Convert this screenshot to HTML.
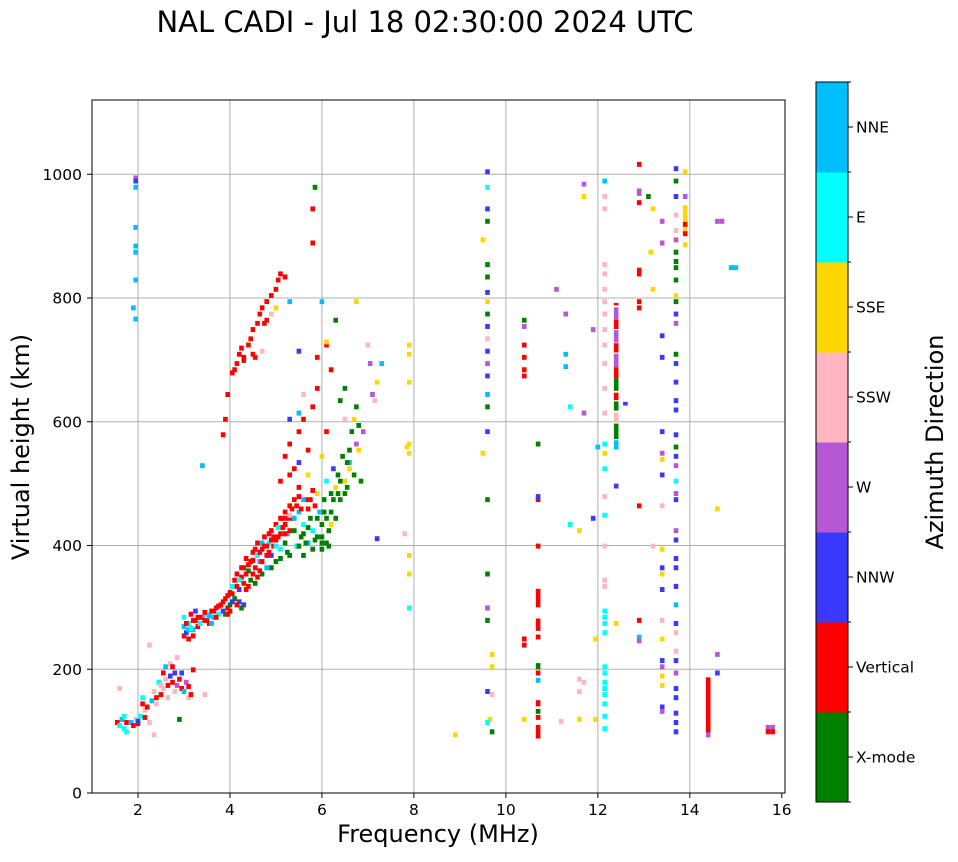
<!DOCTYPE html>
<html><head><meta charset="utf-8"><style>
body{margin:0;background:#fff;}
svg text{font-family:"DejaVu Sans","Liberation Sans",sans-serif;fill:#000;}
</style></head><body>
<svg id="chart" width="958" height="857" viewBox="0 0 958 857" xmlns="http://www.w3.org/2000/svg">
<text x="425" y="32" font-size="29" text-anchor="middle">NAL CADI - Jul 18 02:30:00 2024 UTC</text>
<g id="grid"></g>
<g id="marks"></g>
<rect x="92" y="100" width="693" height="693" fill="none" stroke="#000" stroke-width="1"/>
<g id="axes"></g>
<text x="438" y="842" font-size="24" text-anchor="middle">Frequency (MHz)</text>
<text x="0" y="0" font-size="24" text-anchor="middle" transform="translate(29,447) rotate(-90)">Virtual height (km)</text>
<g id="cbar"></g>
<text x="0" y="0" font-size="24" text-anchor="middle" transform="translate(943,442) rotate(-90)">Azimuth Direction</text>
</svg>
<script>
const categories=["X-mode","Vertical","NNW","W","SSW","SSE","E","NNE"];
const catColors=["#008000","#ff0000","#3a3aff","#b657d6","#ffb6c1","#ffd700","#00ffff","#00bfff"];
const xTicks=[2,4,6,8,10,12,14,16];
const yTicks=[0,200,400,600,800,1000];
// cells: frequency (MHz), height (km), category index, height span (km)
const freqs=[];const heights=[];const cats=[];const spans=[];
const raw=`1.55,110,1;1.6,105,6;1.65,115,7;1.7,100,6;1.75,110,1;1.6,165,4;1.85,110,7;1.9,105,1;1.95,115,4;2.0,108,1;2.05,120,6;2.1,140,1;2.1,150,6;2.15,130,4;2.2,135,1;2.25,110,4;2.3,145,7;2.35,160,4;2.35,90,4;2.4,150,1;2.45,175,6;2.5,170,4;2.5,155,1;2.55,190,1;2.6,180,4;2.6,200,7;2.65,170,1;2.7,185,2;2.7,205,4;2.75,175,1;2.8,190,2;2.8,160,4;2.85,170,3;2.9,180,1;2.95,165,1;3.0,160,7;3.05,175,3;3.1,150,4;3.15,155,1;3.2,195,1;2.85,215,4;2.25,235,4;2.9,115,0;3.45,155,4;1.7,120,6;1.75,95,6;2.0,112,2;2.15,118,1;2.4,140,4;2.55,165,4;2.65,150,4;2.75,200,1;2.95,190,2;3.1,168,1;
3.0,250,1;3.0,265,7;3.0,280,6;3.05,255,2;3.1,245,1;3.1,270,6;3.15,285,1;3.2,260,7;3.2,275,1;3.25,290,2;3.3,265,1;3.35,270,6;3.4,280,7;3.45,275,1;3.5,285,6;3.55,270,1;3.6,290,1;3.65,280,7;3.7,295,1;3.75,285,6;3.8,300,1;3.85,290,2;3.9,310,1;3.95,295,1;4.0,300,0;4.0,320,1;4.05,330,6;4.1,340,1;4.1,310,0;4.15,350,1;4.2,325,2;4.25,345,1;4.3,360,1;4.3,300,2;4.35,375,1;4.4,355,0;4.45,340,0;4.45,370,1;4.5,385,1;4.55,360,1;4.6,380,6;4.6,400,1;4.65,370,3;4.7,390,1;4.7,350,0;4.75,410,1;4.8,380,1;4.8,360,7;4.85,400,6;4.9,420,1;4.9,380,2;4.95,395,1;5.0,430,1;5.0,370,0;5.05,410,1;5.1,440,1;5.1,390,6;5.15,425,1;5.2,450,1;5.2,400,0;5.25,415,7;5.3,460,1;5.3,380,0;5.35,440,1;5.4,470,1;5.4,420,0;5.45,395,6;5.5,450,7;5.5,490,1;5.55,410,0;5.6,430,6;5.6,380,0;5.65,470,1;5.7,400,7;5.75,440,0;5.8,420,6;5.8,390,0;5.85,460,1;5.9,480,5;5.9,410,0;5.95,450,7;6.0,390,0;6.0,430,0;6.05,470,0;6.1,400,0;6.1,500,6;6.15,420,0;6.2,450,0;6.2,480,0;6.25,520,2;6.3,440,0;6.3,490,5;6.35,510,0;6.4,470,0;6.45,540,0;6.5,500,5;6.55,490,0;6.6,530,7;6.6,550,0;6.65,580,0;6.7,510,0;6.7,600,5;6.75,560,3;6.75,620,0;6.8,590,0;6.8,550,5;6.85,500,0;6.9,580,3;6.4,630,0;6.3,760,0;6.75,790,5;
3.1,260,7;3.2,250,1;3.3,280,1;3.5,275,1;3.6,270,7;3.7,280,1;3.9,285,0;4.0,290,1;4.2,305,2;4.3,335,1;4.4,330,1;4.5,350,1;4.6,345,1;4.7,370,1;4.8,395,1;4.9,405,1;5.0,395,6;5.1,415,1;5.2,430,1;5.3,420,1;5.4,440,7;5.6,415,0;5.7,425,0;5.9,440,0;6.0,410,0;6.2,430,5;6.5,480,0;
3.05,270,1;3.15,262,6;3.25,275,1;3.35,280,1;3.45,288,1;3.55,282,7;3.65,290,1;3.75,298,1;3.85,305,1;3.95,315,1;4.05,318,1;4.15,330,1;4.2,340,6;4.25,360,1;4.35,350,1;4.4,365,1;4.5,372,1;4.55,390,1;4.65,385,1;4.7,400,7;4.75,395,1;4.85,385,1;4.85,415,1;4.95,410,1;5.0,405,1;5.05,425,6;5.15,440,1;5.2,415,1;5.25,440,1;5.3,445,4;5.35,455,1;5.45,460,1;5.5,475,1;5.55,455,1;5.6,470,7;5.7,455,1;5.75,470,1;5.8,485,1;6.05,450,0;6.1,440,0;6.25,470,0;6.35,480,0;6.4,500,0;6.55,530,0;6.6,520,5;4.25,295,0;4.05,305,2;3.95,285,1;4.15,300,1;4.35,325,1;4.55,335,0;4.65,355,1;4.9,360,0;5.1,375,0;5.25,385,0;5.5,395,0;5.65,400,0;5.85,405,0;6.0,400,0;6.15,395,0;
5.2,540,1;5.3,560,1;5.4,520,1;5.5,580,1;5.6,600,1;5.7,550,1;5.8,620,1;5.9,650,1;5.9,700,1;5.3,600,2;5.5,610,7;5.6,640,4;6.0,790,7;6.0,540,5;6.1,720,1;6.2,680,1;6.5,600,4;6.5,650,0;5.1,500,1;5.3,510,1;5.5,530,2;5.7,510,5;6.1,580,1;
3.85,575,1;3.95,640,1;4.05,675,1;4.15,690,1;4.2,705,1;4.25,715,1;4.3,700,1;4.4,720,1;4.45,730,1;4.5,745,1;4.6,755,1;4.55,700,1;4.65,770,1;4.7,780,1;4.8,790,1;4.9,800,1;5.0,810,1;5.05,825,1;5.1,835,1;5.2,830,1;4.7,710,4;4.8,760,1;4.9,770,4;5.0,780,5;5.3,790,7;5.5,710,2;5.8,940,1;5.8,885,1;5.85,975,0;6.1,725,5;3.4,525,7;3.9,600,1;4.1,680,1;4.3,695,1;4.5,705,1;4.75,755,1;
1.95,990,3;1.95,985,2;1.95,975,7;1.95,910,7;1.95,880,7;1.95,870,7;1.95,825,7;1.9,780,7;1.95,762,7;
7.0,720,4;7.05,690,3;7.1,640,3;7.15,630,4;7.2,660,5;7.3,690,7;7.2,407,2;7.8,415,4;7.9,720,5;7.9,705,5;7.9,660,5;7.9,560,5;7.9,545,5;7.85,555,5;7.9,380,5;7.9,350,5;7.9,295,6;8.9,90,5;
9.6,1000,2;9.6,975,6;9.6,940,2;9.6,920,0;9.5,890,5;9.6,850,0;9.6,830,0;9.6,805,2;9.6,790,5;9.6,770,0;9.6,750,2;9.6,730,4;9.6,710,2;9.6,690,3;9.6,670,2;9.6,640,7;9.6,620,0;9.6,580,2;9.5,545,5;9.6,470,0;9.6,350,0;9.6,295,3;9.6,275,0;9.7,220,5;9.7,200,5;9.6,160,2;9.7,155,4;9.65,115,5;9.6,110,6;9.7,95,0;
10.4,760,0;10.4,750,3;10.4,720,1;10.4,700,1;10.4,680,1;10.4,670,1;10.4,245,1;10.4,235,1;10.4,115,5;
10.7,395,1;10.7,300,1,30;10.7,262,1,20;10.7,248,1;10.7,200,0,10;10.7,190,1;10.7,178,7;10.7,140,1,10;10.7,128,0;10.7,118,1;10.7,88,1,22;10.7,560,0;10.7,470,1;10.7,475,2;
11.1,810,3;11.3,770,3;11.3,705,7;11.3,685,7;11.4,620,6;11.4,430,6;11.2,112,4;11.6,115,5;11.6,160,4;11.6,180,4;11.7,175,4;11.7,980,3;11.7,960,5;11.7,610,3;11.6,420,5;11.9,745,3;11.9,440,2;11.95,245,5;11.95,115,5;12.0,555,7;
12.15,985,7;12.15,960,4;12.15,940,4;12.15,850,4;12.15,835,4;12.15,810,4;12.15,790,4;12.15,770,4;12.15,745,4;12.15,720,4;12.15,690,4;12.15,650,4;12.15,610,4;12.15,560,6;12.15,545,5;12.15,520,6;12.15,475,4;12.15,445,6;12.15,395,4;12.15,340,4;12.15,330,4;12.15,290,6;12.15,280,6;12.15,270,6;12.15,255,6;12.15,200,6;12.15,190,6;12.15,175,6;12.15,165,6;12.15,155,6;12.15,140,6;12.15,120,6;12.15,100,6;
12.4,765,3,20;12.4,750,1,15;12.4,728,3,20;12.4,712,1,15;12.4,688,3,22;12.4,670,1,18;12.4,650,0,20;12.4,635,1,12;12.4,618,0,15;12.4,600,4,15;12.4,572,0,25;12.4,555,7,15;12.4,788,1,4;12.6,626,2,6;12.4,492,2;12.4,270,5;
12.9,1012,1;12.9,965,3,12;12.9,950,1;12.9,835,1,14;12.9,790,1;12.9,780,1;12.9,460,1;12.9,275,1;12.9,248,7;12.9,242,3;13.1,960,0;13.2,940,5;13.15,870,5;13.2,810,5;13.2,395,4;
13.4,920,3;13.4,885,3;13.4,735,2;13.4,700,2;13.4,580,2;13.4,545,3;13.4,535,5;13.4,510,2;13.4,460,4;13.4,390,5;13.4,360,2;13.4,350,5;13.4,325,2;13.4,275,4;13.4,245,5;13.4,210,2;13.4,200,3;13.4,185,5;13.4,170,5;13.4,135,2;13.4,128,3;
13.7,1005,2;13.7,985,0;13.7,960,2;13.7,930,4;13.7,905,4;13.7,890,3;13.7,870,0;13.7,855,0;13.7,845,0;13.7,825,0;13.7,800,5;13.7,790,0;13.7,770,2;13.7,755,3;13.7,705,0;13.7,690,2;13.7,660,2;13.7,630,2;13.7,615,2;13.7,575,2;13.7,555,0;13.7,540,2;13.7,525,3;13.7,500,6;13.7,480,3;13.7,470,2;13.7,420,3;13.7,405,2;13.7,375,2;13.7,360,2;13.7,330,2;13.7,300,7;13.7,270,2;13.7,255,4;13.7,225,4;13.7,210,2;13.7,190,3;13.7,165,2;13.7,150,2;13.7,125,2;13.7,110,2;13.7,95,2;
13.9,1000,5;13.9,960,3;13.9,905,5,45;13.9,915,1;13.9,900,1;13.9,882,5;
14.4,95,1,92;14.4,90,3;14.6,455,5;14.6,220,3;14.6,190,2;14.6,920,3;14.7,920,3;14.9,845,7;15.0,845,7;15.8,102,3;15.8,95,1;15.7,102,3;15.7,95,1`;
raw.split(";").forEach(s=>{const p=s.trim().split(",").map(Number);if(p.length<3)return;freqs.push(p[0]);heights.push(p[1]);cats.push(p[2]);spans.push(p.length>3?p[3]:8);});

const X0=92,X1=785,Y0=793,Y1=100,FMIN=1,FMAX=16.07,HMIN=0,HMAX=1120;
function xs(f){return X0+(f-FMIN)/(FMAX-FMIN)*(X1-X0);}
function ys(h){return Y0-(h-HMIN)/(HMAX-HMIN)*(Y0-Y1);}
const NS="http://www.w3.org/2000/svg";
function mk(tag,attrs,parent){const e=document.createElementNS(NS,tag);for(const k in attrs)e.setAttribute(k,attrs[k]);parent.appendChild(e);return e;}
const grid=document.getElementById("grid"),axes=document.getElementById("axes"),marks=document.getElementById("marks"),cbar=document.getElementById("cbar");
xTicks.forEach(t=>{const x=xs(t);
 if(t<16){const g=mk("line",{x1:x,x2:x,y1:Y1,y2:Y0,stroke:"#b0b0b0","stroke-width":1},grid);
 
 }
 const tk=mk("line",{x1:x,x2:x,y1:Y0,y2:Y0+5,stroke:"#000"},axes);
 
 
 const tl=mk("text",{x:x,y:Y0+22,"font-size":15.5,"text-anchor":"middle"},axes);tl.textContent=t;
 
 });
yTicks.forEach(t=>{const y=ys(t);
 if(t>0){const g=mk("line",{x1:X0,x2:X1,y1:y,y2:y,stroke:"#b0b0b0","stroke-width":1},grid);
 
 }
 const tk=mk("line",{x1:X0-5,x2:X0,y1:y,y2:y,stroke:"#000"},axes);
 
 
 const tl=mk("text",{x:X0-10,y:y+5.5,"font-size":15.5,"text-anchor":"end"},axes);tl.textContent=t;
 
 });
const BIN=0.1;
for(let i=0;i<freqs.length;i++){
 const xa=xs(freqs[i]-BIN/2),xb=xs(freqs[i]+BIN/2),ya=ys(heights[i]+spans[i]),yb=ys(heights[i]);
 const r=mk("rect",{x:xa.toFixed(1),y:ya.toFixed(1),width:(xb-xa).toFixed(1),height:(yb-ya).toFixed(1),fill:catColors[cats[i]]},marks);
 
 
}
const CX=816,CW=32,CT=82,CB=802,seg=(CB-CT)/categories.length;
categories.forEach((c,i)=>{const y=CB-(i+1)*seg;
 const r=mk("rect",{x:CX,y:y,width:CW,height:seg+0.5,fill:catColors[i]},cbar);
 
 
 const tk=mk("line",{x1:CX+CW,x2:CX+CW+5,y1:y+seg/2,y2:y+seg/2,stroke:"#000"},cbar);
 
 
 const tl=mk("text",{x:CX+CW+8,y:y+seg/2+5.5,"font-size":15.5},cbar);tl.textContent=c;
 
 });
for(let i=0;i<=categories.length;i++){const y=CB-i*seg;
 const b=mk("line",{x1:CX+CW,x2:CX+CW+3,y1:y,y2:y,stroke:"#000"},cbar);
 
 }
const fr=mk("rect",{x:CX,y:CT,width:CW,height:CB-CT,fill:"none",stroke:"#000"},cbar);


</script>
</body></html>
